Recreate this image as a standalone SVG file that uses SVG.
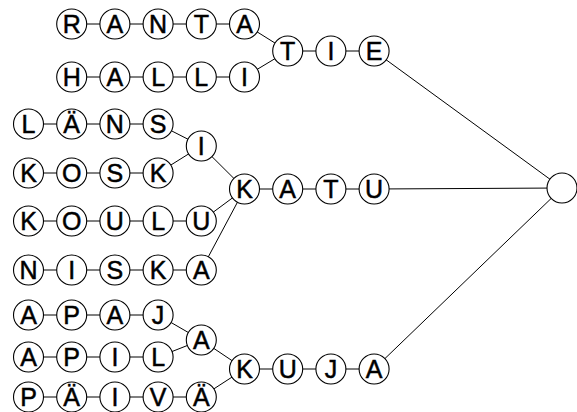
<svg xmlns="http://www.w3.org/2000/svg" width="577" height="412" viewBox="0 0 577 412">
<style>
.n circle{fill:#fff;stroke:#000;stroke-width:1.1}
.n text{font-family:"Liberation Sans",Arial,sans-serif;font-size:25px;text-anchor:middle;fill:#000;stroke:#000;stroke-width:0.5}
#edges line{stroke:#000;stroke-width:1}
</style>
<rect width="577" height="412" fill="#fff"/>
<g id="edges">
<line x1="71.7" y1="24" x2="244.5" y2="24"/>
<line x1="244.5" y1="24" x2="287.7" y2="51"/>
<line x1="71.7" y1="77" x2="244.5" y2="77"/>
<line x1="244.5" y1="77" x2="287.7" y2="51"/>
<line x1="287.7" y1="51" x2="374.1" y2="51"/>
<line x1="374.1" y1="51" x2="562" y2="188"/>
<line x1="28.5" y1="124" x2="158.1" y2="124"/>
<line x1="158.1" y1="124" x2="201.3" y2="146"/>
<line x1="28.5" y1="173" x2="158.1" y2="173"/>
<line x1="158.1" y1="173" x2="201.3" y2="146"/>
<line x1="201.3" y1="146" x2="244.5" y2="189"/>
<line x1="28.5" y1="221" x2="201.3" y2="221"/>
<line x1="201.3" y1="221" x2="244.5" y2="189"/>
<line x1="28.5" y1="270" x2="201.3" y2="270"/>
<line x1="201.3" y1="270" x2="244.5" y2="189"/>
<line x1="244.5" y1="189" x2="374.1" y2="189"/>
<line x1="374.1" y1="189" x2="562" y2="188"/>
<line x1="28.5" y1="315" x2="158.1" y2="315"/>
<line x1="158.1" y1="315" x2="201.3" y2="340"/>
<line x1="28.5" y1="357" x2="158.1" y2="357"/>
<line x1="158.1" y1="357" x2="201.3" y2="340"/>
<line x1="201.3" y1="340" x2="244.5" y2="369"/>
<line x1="28.5" y1="397" x2="201.3" y2="397"/>
<line x1="201.3" y1="397" x2="244.5" y2="369"/>
<line x1="244.5" y1="369" x2="374.1" y2="369"/>
<line x1="374.1" y1="369" x2="562" y2="188"/>
</g>
<g id="ranta_R" class="n"><circle cx="71.7" cy="24" r="15"/><text x="71.7" y="33">R</text></g>
<g id="ranta_A1" class="n"><circle cx="114.9" cy="24" r="15"/><text x="114.9" y="33">A</text></g>
<g id="ranta_N" class="n"><circle cx="158.1" cy="24" r="15"/><text x="158.1" y="33">N</text></g>
<g id="ranta_T" class="n"><circle cx="201.3" cy="24" r="15"/><text x="201.3" y="33">T</text></g>
<g id="ranta_A2" class="n"><circle cx="244.5" cy="24" r="15"/><text x="244.5" y="33">A</text></g>
<g id="halli_H" class="n"><circle cx="71.7" cy="77" r="15"/><text x="71.7" y="86">H</text></g>
<g id="halli_A" class="n"><circle cx="114.9" cy="77" r="15"/><text x="114.9" y="86">A</text></g>
<g id="halli_L1" class="n"><circle cx="158.1" cy="77" r="15"/><text x="158.1" y="86">L</text></g>
<g id="halli_L2" class="n"><circle cx="201.3" cy="77" r="15"/><text x="201.3" y="86">L</text></g>
<g id="halli_I" class="n"><circle cx="244.5" cy="77" r="15"/><text x="244.5" y="86">I</text></g>
<g id="tie_T" class="n"><circle cx="287.7" cy="51" r="15"/><text x="287.7" y="60">T</text></g>
<g id="tie_I" class="n"><circle cx="330.9" cy="51" r="15"/><text x="330.9" y="60">I</text></g>
<g id="tie_E" class="n"><circle cx="374.1" cy="51" r="15"/><text x="374.1" y="60">E</text></g>
<g id="lans_L" class="n"><circle cx="28.5" cy="124" r="15"/><text x="28.5" y="133">L</text></g>
<g id="lans_AE" class="n"><circle cx="71.7" cy="124" r="15"/><text x="71.7" y="133">Ä</text></g>
<g id="lans_N" class="n"><circle cx="114.9" cy="124" r="15"/><text x="114.9" y="133">N</text></g>
<g id="lans_S" class="n"><circle cx="158.1" cy="124" r="15"/><text x="158.1" y="133">S</text></g>
<g id="i_merge" class="n"><circle cx="201.3" cy="146" r="15"/><text x="201.3" y="155">I</text></g>
<g id="kosk_K1" class="n"><circle cx="28.5" cy="173" r="15"/><text x="28.5" y="182">K</text></g>
<g id="kosk_O" class="n"><circle cx="71.7" cy="173" r="15"/><text x="71.7" y="182">O</text></g>
<g id="kosk_S" class="n"><circle cx="114.9" cy="173" r="15"/><text x="114.9" y="182">S</text></g>
<g id="kosk_K2" class="n"><circle cx="158.1" cy="173" r="15"/><text x="158.1" y="182">K</text></g>
<g id="katu_K" class="n"><circle cx="244.5" cy="189" r="15"/><text x="244.5" y="198">K</text></g>
<g id="katu_A" class="n"><circle cx="287.7" cy="189" r="15"/><text x="287.7" y="198">A</text></g>
<g id="katu_T" class="n"><circle cx="330.9" cy="189" r="15"/><text x="330.9" y="198">T</text></g>
<g id="katu_U" class="n"><circle cx="374.1" cy="189" r="15"/><text x="374.1" y="198">U</text></g>
<g id="koulu_K" class="n"><circle cx="28.5" cy="221" r="15"/><text x="28.5" y="230">K</text></g>
<g id="koulu_O" class="n"><circle cx="71.7" cy="221" r="15"/><text x="71.7" y="230">O</text></g>
<g id="koulu_U1" class="n"><circle cx="114.9" cy="221" r="15"/><text x="114.9" y="230">U</text></g>
<g id="koulu_L" class="n"><circle cx="158.1" cy="221" r="15"/><text x="158.1" y="230">L</text></g>
<g id="koulu_U2" class="n"><circle cx="201.3" cy="221" r="15"/><text x="201.3" y="230">U</text></g>
<g id="niska_N" class="n"><circle cx="28.5" cy="270" r="15"/><text x="28.5" y="279">N</text></g>
<g id="niska_I" class="n"><circle cx="71.7" cy="270" r="15"/><text x="71.7" y="279">I</text></g>
<g id="niska_S" class="n"><circle cx="114.9" cy="270" r="15"/><text x="114.9" y="279">S</text></g>
<g id="niska_K" class="n"><circle cx="158.1" cy="270" r="15"/><text x="158.1" y="279">K</text></g>
<g id="niska_A" class="n"><circle cx="201.3" cy="270" r="15"/><text x="201.3" y="279">A</text></g>
<g id="apaj_A1" class="n"><circle cx="28.5" cy="315" r="15"/><text x="28.5" y="324">A</text></g>
<g id="apaj_P" class="n"><circle cx="71.7" cy="315" r="15"/><text x="71.7" y="324">P</text></g>
<g id="apaj_A2" class="n"><circle cx="114.9" cy="315" r="15"/><text x="114.9" y="324">A</text></g>
<g id="apaj_J" class="n"><circle cx="158.1" cy="315" r="15"/><text x="158.1" y="324">J</text></g>
<g id="a_merge" class="n"><circle cx="201.3" cy="340" r="15"/><text x="201.3" y="349">A</text></g>
<g id="apil_A" class="n"><circle cx="28.5" cy="357" r="15"/><text x="28.5" y="366">A</text></g>
<g id="apil_P" class="n"><circle cx="71.7" cy="357" r="15"/><text x="71.7" y="366">P</text></g>
<g id="apil_I" class="n"><circle cx="114.9" cy="357" r="15"/><text x="114.9" y="366">I</text></g>
<g id="apil_L" class="n"><circle cx="158.1" cy="357" r="15"/><text x="158.1" y="366">L</text></g>
<g id="kuja_K" class="n"><circle cx="244.5" cy="369" r="15"/><text x="244.5" y="378">K</text></g>
<g id="kuja_U" class="n"><circle cx="287.7" cy="369" r="15"/><text x="287.7" y="378">U</text></g>
<g id="kuja_J" class="n"><circle cx="330.9" cy="369" r="15"/><text x="330.9" y="378">J</text></g>
<g id="kuja_A" class="n"><circle cx="374.1" cy="369" r="15"/><text x="374.1" y="378">A</text></g>
<g id="paiva_P" class="n"><circle cx="28.5" cy="397" r="15"/><text x="28.5" y="406">P</text></g>
<g id="paiva_AE1" class="n"><circle cx="71.7" cy="397" r="15"/><text x="71.7" y="406">Ä</text></g>
<g id="paiva_I" class="n"><circle cx="114.9" cy="397" r="15"/><text x="114.9" y="406">I</text></g>
<g id="paiva_V" class="n"><circle cx="158.1" cy="397" r="15"/><text x="158.1" y="406">V</text></g>
<g id="paiva_AE2" class="n"><circle cx="201.3" cy="397" r="15"/><text x="201.3" y="406">Ä</text></g>
<g id="final" class="n"><circle cx="562" cy="188" r="15"/></g>
</svg>
